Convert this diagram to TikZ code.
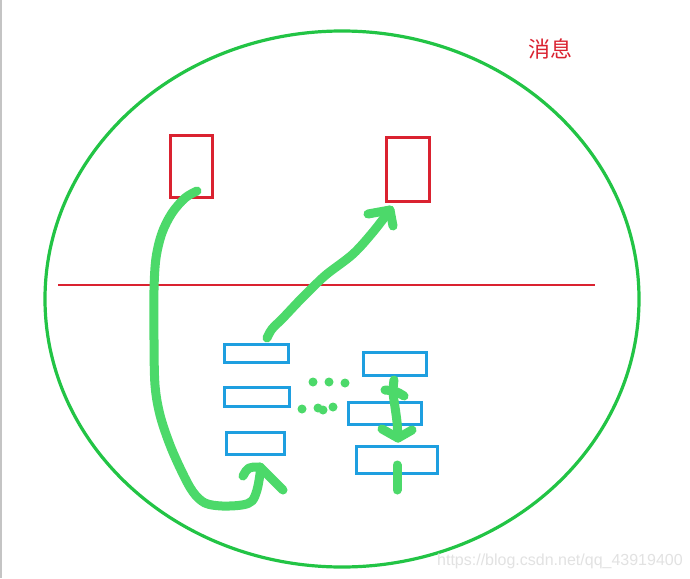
\documentclass[tikz,border=0pt]{standalone}
\usepackage{fontspec}
\setmainfont{Liberation Sans}
\newfontfamily\cjk{Noto Sans CJK SC}
\definecolor{msgred}{HTML}{DA2230}
\definecolor{boxblue}{HTML}{1E9FE0}
\definecolor{ringgreen}{HTML}{22C445}
\definecolor{penGreen}{HTML}{4CD96A}
\definecolor{leftgray}{HTML}{C4C4C4}
\definecolor{wmgray}{HTML}{E2E2E2}
\begin{document}
\begin{tikzpicture}[x=1pt,y=-1pt,
  redbox/.style={draw=msgred, line width=3pt, inner sep=0pt},
  bluebox/.style={draw=boxblue, line width=3pt, inner sep=0pt},
  pen/.style={draw=penGreen, line width=9pt, line cap=round, line join=round},
  dotmark/.style={circle, fill=penGreen, inner sep=0pt, minimum size=9pt}]
\useasboundingbox (0,0) rectangle (690,578);
\fill[white] (0,0) rectangle (690,578);
\fill[leftgray] (0,0) rectangle (2,578);
% outer ring
\draw[ringgreen, line width=3.2pt] (342,299) ellipse [x radius=297, y radius=268];
% divider
\draw[msgred, line width=2.5pt] (58,285) -- (595,285);
% red boxes
\node[redbox, minimum width=42pt, minimum height=62pt] (r1) at (191.5,166.5) {};
\node[redbox, minimum width=43pt, minimum height=64pt] (r2) at (408,169.5) {};
% blue boxes
\node[bluebox, minimum width=64pt, minimum height=18pt] (b1) at (256.5,353.5) {};
\node[bluebox, minimum width=65pt, minimum height=19pt] (b2) at (257,397) {};
\node[bluebox, minimum width=58pt, minimum height=22pt] (b3) at (255.5,443.5) {};
\node[bluebox, minimum width=63pt, minimum height=23pt] (b4) at (395,364) {};
\node[bluebox, minimum width=73pt, minimum height=22pt] (b5) at (385,413.5) {};
\node[bluebox, minimum width=81pt, minimum height=27pt] (b6) at (397,460) {};
% dots
\node[dotmark] (d1) at (313,382) {};
\node[dotmark] (d2) at (329,382) {};
\node[dotmark] (d3) at (345,383) {};
\node[dotmark] (d4) at (302,409) {};
\node[dotmark] (d5) at (318,408) {};
\node[dotmark] (d6) at (323,410) {};
\node[dotmark] (d7) at (333,407) {};
% stroke A: from r1 around to b3
\coordinate (aS) at (197,191);
\coordinate (aT) at (260,467);
\draw[pen] plot[smooth, tension=0.55] coordinates {(aS) (185,198) (172,213) (162,233) (156,258) (154,290) (154,340) (155,385) (160,415) (170,445) (182,472) (193,492) (205,503) (222,506) (242,505) (252,501) (257,490) (260,474) (aT)};
\draw[pen] (243,476) .. controls (248,467) .. (aT) -- (283,490);
% stroke B: from b1 up to r2
\coordinate (bS) at (267,338);
\coordinate (bT) at (390,210);
\draw[pen] plot[smooth, tension=0.55] coordinates {(bS) (272,329) (283,318) (300,300) (313,287) (327,274) (353,254) (373,232) (bT)};
\draw[pen] (368,214) -- (bT) -- (393,226);
% stroke C: b4 down to b6
\coordinate (cS) at (394,380);
\coordinate (cT) at (398,438);
\draw[pen] plot[smooth, tension=0.55] coordinates {(cS) (393,392) (395,407) (397,422) (cT)};
\draw[pen] (385,390) .. controls (396,391) .. (404,396);
\draw[pen] (382,429) -- (cT) -- (412,430);
\coordinate (eS) at (397,465);
\coordinate (eT) at (397,490);
\draw[pen] (eS) -- (eT);
% texts
\node[text=msgred, font=\cjk\fontsize{22}{22}\selectfont, inner sep=0pt] (title) at (550,49) {消息};
\node[anchor=base west, inner sep=0pt, text=wmgray, font=\fontsize{16}{16}\selectfont] (wm) at (437,565) {https://blog.csdn.net/qq\_43919400};
\end{tikzpicture}
\end{document}
